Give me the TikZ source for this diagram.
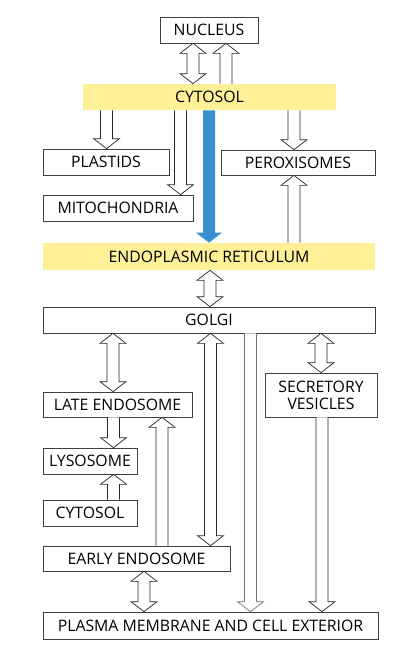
\documentclass[tikz,border=0pt]{standalone}
\usepackage{fontspec}
\setmainfont{Open Sans}
\usetikzlibrary{calc}
\definecolor{bandyellow}{RGB}{253,240,150}
\definecolor{routeblue}{RGB}{58,143,206}

% block arrow with one head: x of axis, from, to
\newcommand{\onearrow}[4][]{%
  \draw[blockarrow,#1] let \p1=(#3), \p2=(#4), \n1={ifthenelse(\y1>\y2,1,-1)} in
    ({#2pt-6pt},\y1) -- ({#2pt-6pt},{\y2+\n1*10pt}) -- ({#2pt-13pt},{\y2+\n1*10pt})
    -- (#2pt,\y2) -- ({#2pt+13pt},{\y2+\n1*10pt}) -- ({#2pt+6pt},{\y2+\n1*10pt})
    -- ({#2pt+6pt},\y1);}
% block arrow with two heads
\newcommand{\twoarrow}[4][]{%
  \draw[blockarrow,#1] let \p1=(#3), \p2=(#4), \n1={ifthenelse(\y1>\y2,1,-1)} in
    (#2pt,\y1) -- ({#2pt-13pt},{\y1-\n1*10pt}) -- ({#2pt-6pt},{\y1-\n1*10pt})
    -- ({#2pt-6pt},{\y2+\n1*10pt}) -- ({#2pt-13pt},{\y2+\n1*10pt}) -- (#2pt,\y2)
    -- ({#2pt+13pt},{\y2+\n1*10pt}) -- ({#2pt+6pt},{\y2+\n1*10pt})
    -- ({#2pt+6pt},{\y1-\n1*10pt}) -- ({#2pt+13pt},{\y1-\n1*10pt}) -- cycle;}

\begin{document}
\begin{tikzpicture}[x=1pt,y=-1pt,
  box/.style={draw=black!75,line width=0.7pt,fill=white,inner sep=0pt,
    minimum height=26,font=\fontsize{15.8}{17}\selectfont,align=center},
  band/.style={box,draw=none,fill=bandyellow},
  blockarrow/.style={draw=black!85,line width=0.7pt,fill=white,line join=miter},
  bluearrow/.style={draw=none,fill=routeblue}]
\useasboundingbox[fill=white] (0,0) rectangle (407,654);

\node[box,minimum width=98] (nucleus) at (209,30) {NUCLEUS};
\node[band,minimum width=253] (cytosol) at (209.5,97) {CYTOSOL};
\node[box,minimum width=126] (plastids) at (106,162) {PLASTIDS};
\node[box,minimum width=150] (mito) at (118,208) {MITOCHONDRIA};
\node[box,minimum width=154,minimum height=25] (perox) at (298,162.5) {PEROXISOMES};
\node[band,minimum width=332,minimum height=27] (er) at (209,256.5) {ENDOPLASMIC RETICULUM};
\node[box,minimum width=332] (golgi) at (209,320) {GOLGI};
\node[box,minimum width=149,minimum height=25] (late) at (117.5,404.5) {LATE ENDOSOME};
\node[box,minimum width=94] (lyso) at (90,461) {LYSOSOME};
\node[box,minimum width=94] (cytosoltwo) at (90,513) {CYTOSOL};
\node[box,minimum width=187,minimum height=25] (early) at (136.5,558.5) {EARLY ENDOSOME};
\node[box,minimum width=112,minimum height=44] (secretory) at (321,395) {SECRETORY\\VESICLES};
\node[box,minimum width=335,minimum height=27] (plasma) at (210.5,625.5) {PLASMA MEMBRANE AND CELL EXTERIOR};

\twoarrow{193}{cytosol.north}{nucleus.south}
\onearrow{226}{cytosol.north}{nucleus.south}
\onearrow{106.5}{cytosol.south}{plastids.north}
\onearrow{180.5}{cytosol.south}{mito.north}
\onearrow[bluearrow]{209}{cytosol.south}{er.north}
\onearrow{294}{cytosol.south}{perox.north}
\onearrow{294}{er.north}{perox.south}
\twoarrow{210}{er.south}{golgi.north}
\twoarrow{113}{golgi.south}{late.north}
\onearrow{113.5}{late.south}{lyso.north}
\onearrow{113.5}{cytosoltwo.north}{lyso.south}
\onearrow{162}{early.north}{late.south}
\twoarrow{210.5}{golgi.south}{early.north}
\onearrow[draw=black!55]{250.5}{golgi.south}{plasma.north}
\twoarrow{321}{golgi.south}{secretory.north}
\onearrow{322}{secretory.south}{plasma.north}
\twoarrow{144}{early.south}{plasma.north}
\end{tikzpicture}
\end{document}
